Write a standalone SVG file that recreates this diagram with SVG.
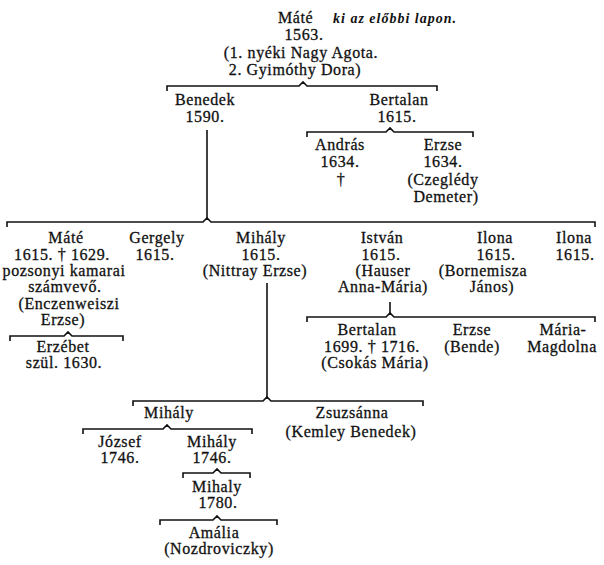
<svg xmlns="http://www.w3.org/2000/svg" width="604" height="565" viewBox="0 0 604 565">
<style>
text{font-family:"Liberation Serif","Times New Roman",serif;font-size:16px;letter-spacing:0.6px;fill:#111;stroke:#111;stroke-width:0.3px;text-anchor:middle}
.note{font-size:14px;font-weight:bold;font-style:italic;letter-spacing:1px;stroke-width:0;text-anchor:start}
.st{text-anchor:start}
.c{fill:none;stroke:#111;stroke-width:1.6;stroke-linejoin:miter}
</style>
<rect width="604" height="565" fill="#fff"/>
<g id="connectors">
<path class="c" d="M167,91V86H299L303,82L307,86H437V91"/>
<path class="c" d="M307,137V132H386L390,128L394,132H473V137"/>
<path class="c" d="M7,227V222H203L207,218L211,222H595V227"/>
<path class="c" d="M10,341V336H64L68,332L72,336H123V341"/>
<path class="c" d="M307,322V317H386L390,313L394,317H595V322"/>
<path class="c" d="M133,406V401H263L267,397L271,401H423V406"/>
<path class="c" d="M83,434V429H163L167,425L171,429H252V434"/>
<path class="c" d="M183,478V473H213L217,469L221,473H250V478"/>
<path class="c" d="M160,525V520H213L217,516L221,520H277V525"/>
<path class="c" d="M207,130V218"/>
<path class="c" d="M267,283V397"/>
<path class="c" d="M390,302V313"/>
</g>
<g id="mate1563">
<text class="st" x="278" y="23">Máté</text>
<text class="note" x="333" y="23">ki az előbbi lapon.</text>
<text x="304" y="40">1563.</text>
<text x="301" y="58">(1. nyéki Nagy Agota.</text>
<text x="295" y="75">2. Gyimóthy Dora)</text>
</g>
<g id="benedek">
<text x="205" y="105">Benedek</text>
<text x="205" y="122">1590.</text>
</g>
<g id="bertalan1615">
<text x="399" y="105">Bertalan</text>
<text x="397" y="122">1615.</text>
</g>
<g id="andras">
<text x="340" y="150">András</text>
<text x="340" y="167">1634.</text>
<text x="341" y="185">†</text>
</g>
<g id="erzse1634">
<text x="443" y="150">Erzse</text>
<text x="443" y="167">1634.</text>
<text x="443" y="185">(Czeglédy</text>
<text x="446" y="202">Demeter)</text>
</g>
<g id="mate1615">
<text x="66" y="243">Máté</text>
<text x="62" y="260">1615. † 1629.</text>
<text x="64" y="276">pozsonyi kamarai</text>
<text x="65" y="292">számvevő.</text>
<text x="69" y="309">(Enczenweiszi</text>
<text x="63" y="325">Erzse)</text>
</g>
<g id="erzsebet">
<text x="63" y="352">Erzébet</text>
<text x="64" y="368">szül. 1630.</text>
</g>
<g id="gergely">
<text x="157" y="243">Gergely</text>
<text x="155" y="260">1615.</text>
</g>
<g id="mihaly1615">
<text x="261" y="243">Mihály</text>
<text x="261" y="260">1615.</text>
<text x="255" y="276">(Nittray Erzse)</text>
</g>
<g id="istvan">
<text x="382" y="243">István</text>
<text x="381" y="260">1615.</text>
<text x="383" y="276">(Hauser</text>
<text x="383" y="292">Anna-Mária)</text>
</g>
<g id="ilona1">
<text x="495" y="243">Ilona</text>
<text x="496" y="260">1615.</text>
<text x="483" y="276">(Bornemisza</text>
<text x="492" y="292">János)</text>
</g>
<g id="ilona2">
<text x="574" y="243">Ilona</text>
<text x="575" y="260">1615.</text>
</g>
<g id="bertalan1699">
<text x="367" y="335">Bertalan</text>
<text x="372" y="352">1699. † 1716.</text>
<text x="375" y="368">(Csokás Mária)</text>
</g>
<g id="erzse-bende">
<text x="472" y="335">Erzse</text>
<text x="472" y="352">(Bende)</text>
</g>
<g id="maria-magdolna">
<text x="563" y="335">Mária-</text>
<text x="562" y="352">Magdolna</text>
</g>
<g id="mihaly2">
<text x="169" y="418">Mihály</text>
</g>
<g id="zsuzsanna">
<text x="352" y="418">Zsuzsánna</text>
<text x="351" y="437">(Kemley Benedek)</text>
</g>
<g id="jozsef">
<text x="120" y="447">József</text>
<text x="120" y="463">1746.</text>
</g>
<g id="mihaly1746">
<text x="212" y="447">Mihály</text>
<text x="212" y="463">1746.</text>
</g>
<g id="mihaly1780">
<text x="217" y="492">Mihaly</text>
<text x="218" y="508">1780.</text>
</g>
<g id="amalia">
<text x="214" y="538">Amália</text>
<text x="219" y="554">(Nozdroviczky)</text>
</g>
</svg>
